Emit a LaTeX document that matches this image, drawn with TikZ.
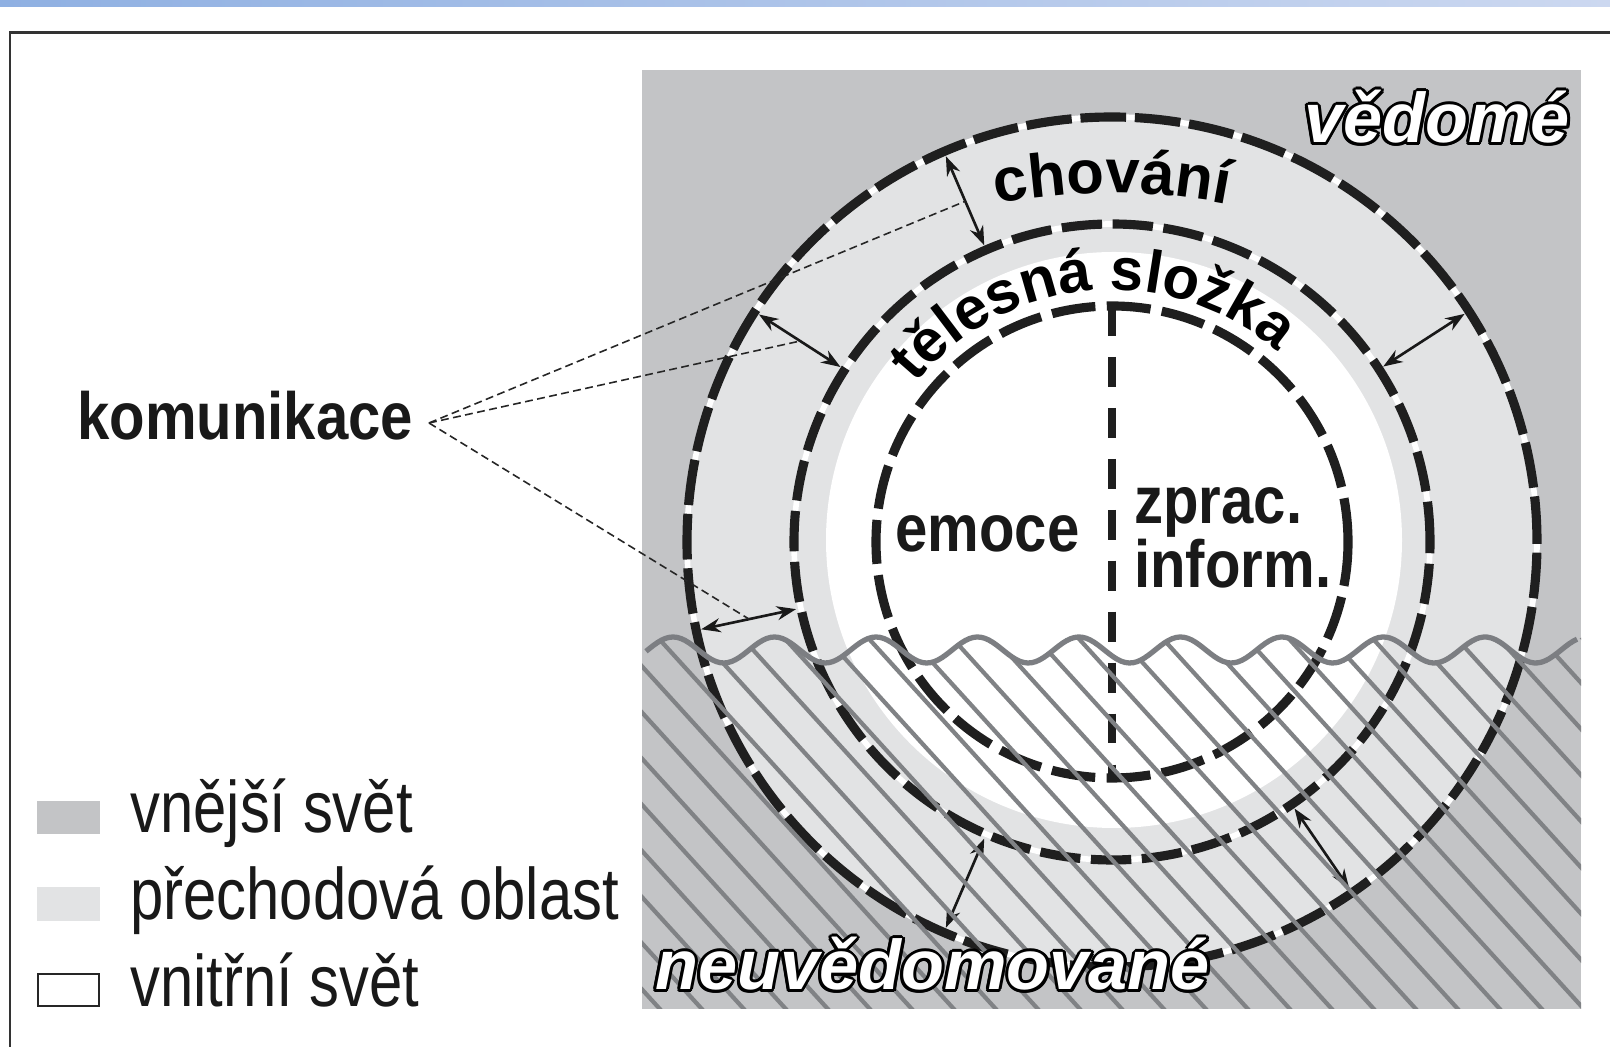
\documentclass[tikz,border=0pt]{standalone}
\usepackage{fontspec}
\setmainfont{Liberation Sans}
\newfontfamily\legfont[FakeStretch=0.82]{Liberation Sans}
\newfontfamily\lblfont[FakeStretch=0.87]{Liberation Sans}
\usetikzlibrary{arrows.meta,calc,decorations.text}
\definecolor{outerg}{HTML}{C3C4C6}
\definecolor{transg}{HTML}{E2E3E4}
\definecolor{hatchg}{HTML}{808285}
\definecolor{waveg}{HTML}{7C7E82}
\definecolor{barL}{HTML}{8FB0E2}
\definecolor{barR}{HTML}{CCD8F0}
\begin{document}
\begin{tikzpicture}[x=0.02cm,y=0.02cm,
  gapline/.style={line width=3.2pt,draw=white},
  outerdash/.style={line width=5.2pt,dash pattern=on 26pt off 5pt,draw=black!88},
  middash/.style={line width=5.2pt,dash pattern=on 23pt off 6pt,draw=black!88},
  innerdash/.style={line width=5.2pt,dash pattern=on 25pt off 6.5pt,draw=black!88},
  vertdash/.style={line width=5pt,dash pattern=on 17pt off 12pt,draw=black!88},
  dblarrow/.style={{Stealth[length=11pt,width=8pt]}-{Stealth[length=11pt,width=8pt]},line width=1.5pt,draw=black!90},
  komdash/.style={line width=0.9pt,dash pattern=on 4.5pt off 2.5pt,draw=black!85},
  hatchline/.style={line width=2.4pt,draw=hatchg},
  waveline/.style={line width=3pt,draw=waveg},
  lbl/.style={font=\lblfont\bfseries\fontsize{38}{40}\selectfont,inner sep=0pt,anchor=base west,text=black!90},
  leg/.style={font=\legfont\fontsize{41.5}{44}\selectfont,inner sep=0pt,anchor=base west,text=black!90},
  big/.style={font=\bfseries\itshape\fontsize{40}{42}\selectfont,inner sep=0pt,anchor=base west}
]
\useasboundingbox (0,0) rectangle (1610,1047);
\clip (0,0) rectangle (1610,1047);
\fill[white] (0,0) rectangle (1610,1047);
% top bar and frame
\shade[left color=barL,right color=barR] (0,1040) rectangle (1610,1047);
\draw[line width=1.7pt,draw=black!80] (1620,1014) -- (10,1014) -- (10,-10);
% panel
\fill[outerg] (642,38) rectangle (1581,977);
\coordinate (C) at (1112,505);
\fill[transg] (C) circle[radius=425];
\fill[white] (1114,507) circle[radius=288];
% circles
\draw[gapline] (C) circle[radius=425];
\draw[gapline] (C) circle[radius=318];
\draw[outerdash] (C) circle[radius=425];
\draw[middash] (C) circle[radius=318];
\draw[innerdash] (C) circle[radius=236];
\coordinate (vtop) at (1112,741);
\coordinate (vbot) at (1112,269);
\draw[vertdash] (vtop) -- (vbot);
% arrows
\foreach \n/\a in {1/113.3,2/147.2,3/32.9,4/192,5/246.7,6/304.4}{
  \coordinate (o\n) at ($(C)+(\a:420)$);
  \coordinate (m\n) at ($(C)+(\a:323)$);
  \coordinate (h\n) at ($(C)+(\a:371)$);
  \draw[dblarrow] (m\n) -- (o\n);
}
% curved labels
\path[decorate,decoration={text along path,text align=center,
   text={|\bfseries\fontsize{35}{37}\selectfont|chování}}]
   ($(1112,254)+(110:600)$) arc[start angle=110,end angle=70,radius=600];
\path[decorate,decoration={text along path,text align=center,
   text={|\bfseries\fontsize{34}{36}\selectfont|tělesná složka}}]
   ($(C)+(180:252)$) arc[start angle=180,end angle=10,radius=252];
% inner labels
\node[lbl] (emo) at (895,495) {emoce};
\node[lbl] (zpr) at (1134,523) {zprac.};
\node[lbl] (inf) at (1134,459) {inform.};
% hatch below the wave
\begin{scope}
  \clip plot[domain=642:1581,samples=240] (\x,{397+13*cos(3.5468*(\x-673))}) -- (1581,38) -- (642,38) -- cycle;
  \foreach \i in {-10,...,24}{
    \draw[hatchline] (630+42*\i,440) -- ++(0.91*440,-440);
  }
\end{scope}
\draw[waveline] plot[domain=646:1577,samples=240] (\x,{397+13*cos(3.5468*(\x-673))});
% outlined titles
\coordinate (vpos) at (1304,904);
\coordinate (npos) at (655,57);
\foreach \a in {0,30,...,330}{
  \node[big,text=black] (vo\a) at ($(vpos)+(\a:3)$) {vědomé};
  \node[big,text=black] (no\a) at ($(npos)+(\a:3)$) {neuvědomované};
}
\node[big,text=white] (vedome) at (vpos) {vědomé};
\node[big,text=white] (neuved) at (npos) {neuvědomované};
% komunikace
\node[lbl] (kom) at (77,607) {komunikace};
\coordinate (kp) at (429,624);
\draw[komdash] (kp) -- (h1);
\draw[komdash] (kp) -- (h2);
\draw[komdash] (kp) -- (h4);
% legend
\fill[outerg] (37,213) rectangle (100,246);
\fill[transg] (37,126) rectangle (100,160);
\draw[line width=1.2pt,draw=black!85,fill=white] (38,41) rectangle (99,73);
\node[leg] (l1) at (130,214) {vnější svět};
\node[leg] (l2) at (130,127) {přechodová oblast};
\node[leg] (l3) at (130,40) {vnitřní svět};
\end{tikzpicture}
\end{document}
